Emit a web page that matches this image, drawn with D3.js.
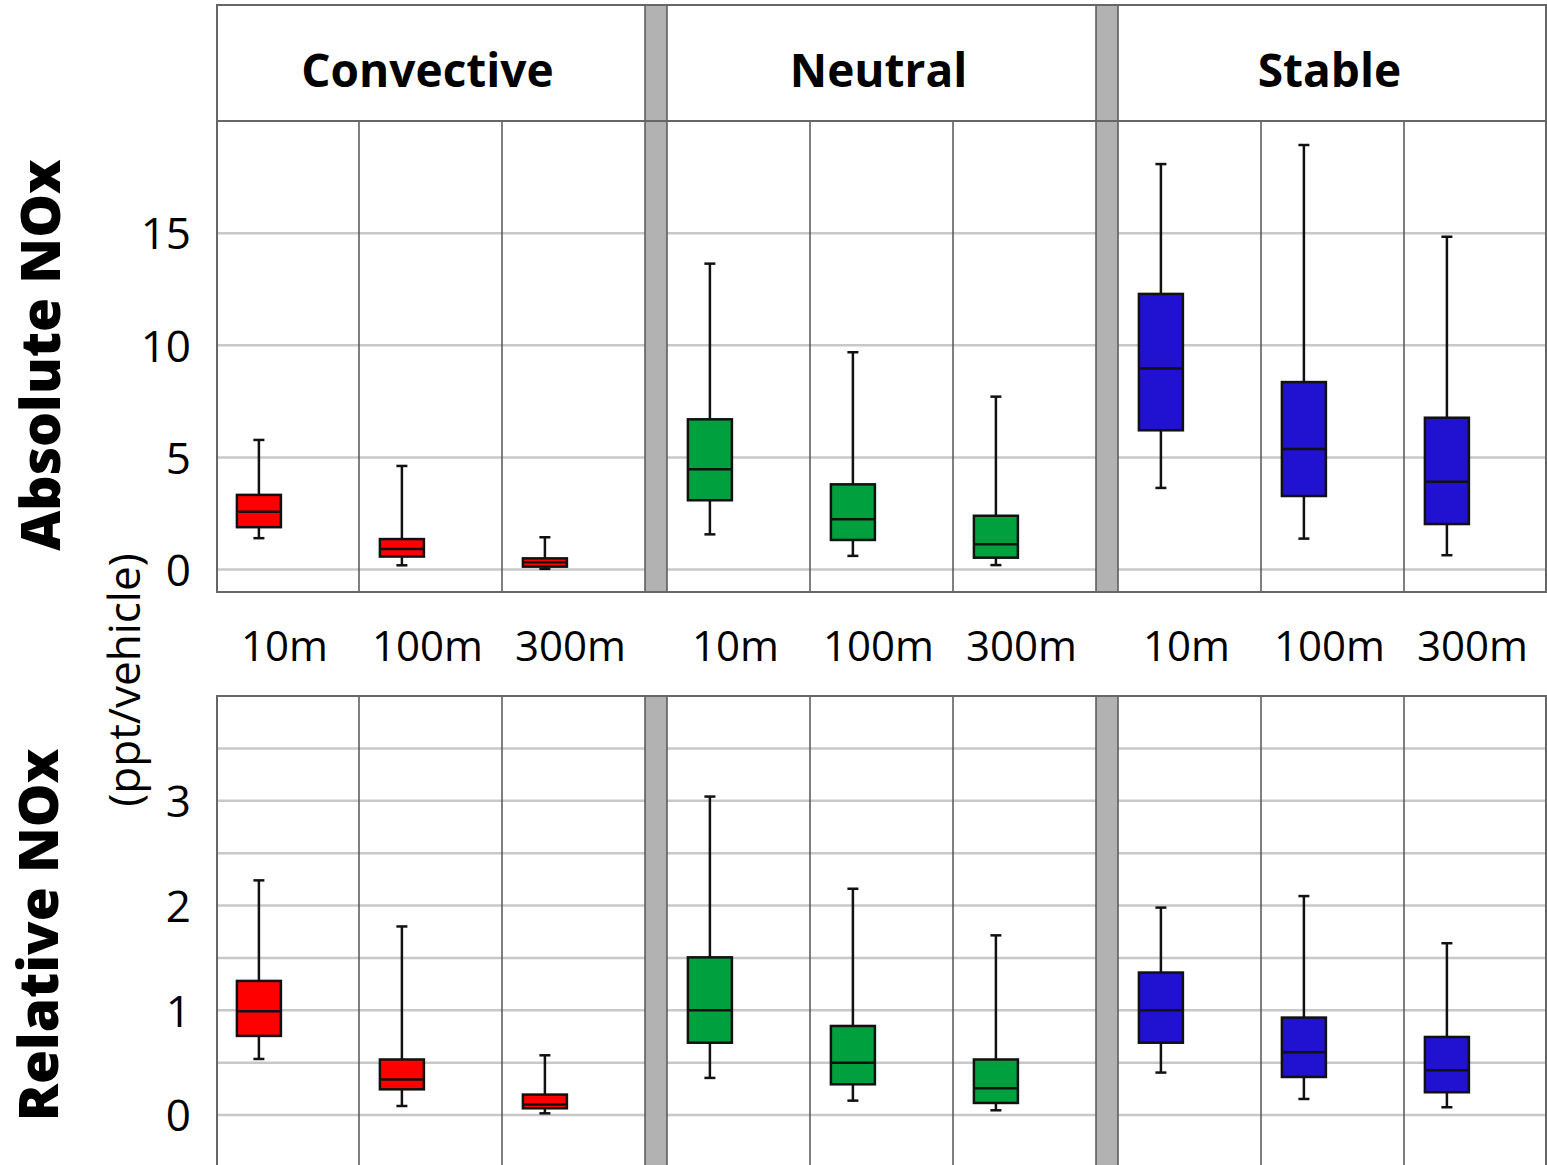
<!DOCTYPE html>
<html>
<head>
<meta charset="utf-8">
<script src="https://cdn.jsdelivr.net/npm/d3@7"></script>
<style>
  body { margin: 0; background: #fff; }
  text { font-family: "Open Sans", "Noto Sans", sans-serif; fill: #000; }
</style>
</head>
<body>
<div id="chart"></div>
<script>
// categories
const stability = ["Convective", "Neutral", "Stable"]
const distances = ["10m", "100m", "300m"]
const boxColors = ["#ff0000", "#00a03e", "#2111d1"]

// Absolute NOx (ppt/vehicle), order: Convective 10/100/300m, Neutral ..., Stable ...
const absHigh   = [5.78, 4.62, 1.44, 13.64, 9.69, 7.71, 18.08, 18.93, 14.84]
const absQ3     = [3.33, 1.36, 0.50, 6.70, 3.80, 2.40, 12.29, 8.36, 6.77]
const absMedian = [2.58, 0.92, 0.33, 4.47, 2.24, 1.13, 8.97, 5.38, 3.92]
const absQ1     = [1.89, 0.58, 0.13, 3.09, 1.32, 0.53, 6.21, 3.28, 2.03]
const absLow    = [1.40, 0.19, 0.03, 1.57, 0.61, 0.20, 3.64, 1.38, 0.64]

// Relative NOx
const relHigh   = [2.24, 1.80, 0.57, 3.04, 2.16, 1.715, 1.98, 2.09, 1.64]
const relQ3     = [1.28, 0.53, 0.195, 1.505, 0.85, 0.53, 1.36, 0.93, 0.745]
const relMedian = [0.99, 0.34, 0.10, 1.00, 0.50, 0.255, 1.00, 0.60, 0.427]
const relQ1     = [0.755, 0.245, 0.064, 0.69, 0.293, 0.115, 0.69, 0.363, 0.217]
const relLow    = [0.535, 0.086, 0.016, 0.354, 0.137, 0.045, 0.405, 0.153, 0.074]

// axis ticks
const absTicks = [0, 5, 10, 15]
const absGrid  = [0, 5, 10, 15]
const relTicks = [0, 1, 2, 3]
const relGrid  = [0, 0.5, 1, 1.5, 2, 2.5, 3, 3.5]

function makeRows(high, q3, med, q1, low) {
  return high.map((h, i) => ({
    stab: stability[Math.floor(i / 3)],
    dist: distances[i % 3],
    color: boxColors[Math.floor(i / 3)],
    high: h, q3: q3[i], med: med[i], q1: q1[i], low: low[i]
  }))
}

const width = 1547
const height = 1165
const left = 216
const right = 1547

const svg = d3.select("#chart")
  .append("svg")
  .attr("width", width)
  .attr("height", height)

// group scale (with the gray separators as inner padding) and sub-column scale
const x = d3.scaleBand()
  .domain(stability)
  .range([left, right])
  .paddingInner(22 / 451)
const xi = d3.scaleBand()
  .domain(distances)
  .range([0, x.bandwidth()])

const boxW = 44
const boxPos = 0.3   // box centre sits at 30% of each sub-column

function drawPanel(y, top, bottom, frameTop, gridVals, tickVals, rows) {
  const g = svg.append("g")

  // gridlines
  g.selectAll(".grid")
    .data(gridVals)
    .join("line")
    .attr("x1", left).attr("x2", right)
    .attr("y1", d => y(d)).attr("y2", d => y(d))
    .attr("stroke", "#c8c8c8")
    .attr("stroke-width", 2.5)

  // sub-column dividers
  const divs = []
  stability.forEach(s => distances.slice(1).forEach(d => divs.push(x(s) + xi(d))))
  g.selectAll(".div")
    .data(divs)
    .join("line")
    .attr("x1", d => d).attr("x2", d => d)
    .attr("y1", top).attr("y2", bottom)
    .attr("stroke", "#555")
    .attr("stroke-width", 1.5)

  // gray separators between stability groups
  const seps = stability.slice(0, -1).map(s => x(s) + x.bandwidth())
  g.selectAll(".sep")
    .data(seps)
    .join("rect")
    .attr("x", d => d)
    .attr("y", frameTop)
    .attr("width", x.step() - x.bandwidth())
    .attr("height", bottom - frameTop)
    .attr("fill", "#b2b2b2")
    .attr("stroke", "#555")
    .attr("stroke-width", 1.5)

  // outer frame
  g.append("rect")
    .attr("x", left + 1)
    .attr("y", frameTop)
    .attr("width", right - left - 2)
    .attr("height", bottom - frameTop)
    .attr("fill", "none")
    .attr("stroke", "#666")
    .attr("stroke-width", 2)

  // y tick labels
  const axis = d3.axisLeft(y)
    .tickValues(tickVals)
    .tickFormat(d3.format("d"))
    .tickSize(0)
    .tickPadding(25)
  const ax = g.append("g")
    .attr("transform", `translate(${left},0)`)
    .call(axis)
  ax.select(".domain").remove()
  ax.selectAll("text")
    .attr("font-family", "'Open Sans', sans-serif")
    .attr("font-size", 44)
    .attr("dy", "0.36em")

  // boxes
  const cx = d => x(d.stab) + xi(d.dist) + xi.bandwidth() * boxPos
  const bx = g.selectAll(".box")
    .data(rows)
    .join("g")

  bx.append("line")
    .attr("x1", cx).attr("x2", cx)
    .attr("y1", d => y(d.high)).attr("y2", d => y(d.low))
    .attr("stroke", "#111").attr("stroke-width", 2.5)
  bx.append("line")
    .attr("x1", d => cx(d) - 5.5).attr("x2", d => cx(d) + 5.5)
    .attr("y1", d => y(d.high)).attr("y2", d => y(d.high))
    .attr("stroke", "#111").attr("stroke-width", 2.5)
  bx.append("line")
    .attr("x1", d => cx(d) - 5.5).attr("x2", d => cx(d) + 5.5)
    .attr("y1", d => y(d.low)).attr("y2", d => y(d.low))
    .attr("stroke", "#111").attr("stroke-width", 2.5)
  bx.append("rect")
    .attr("x", d => cx(d) - boxW / 2)
    .attr("y", d => y(d.q3))
    .attr("width", boxW)
    .attr("height", d => y(d.q1) - y(d.q3))
    .attr("fill", d => d.color)
    .attr("stroke", "#111").attr("stroke-width", 2.5)
  bx.append("line")
    .attr("x1", d => cx(d) - boxW / 2).attr("x2", d => cx(d) + boxW / 2)
    .attr("y1", d => y(d.med)).attr("y2", d => y(d.med))
    .attr("stroke", "#111").attr("stroke-width", 2.5)
}

// top panel: Absolute NOx
const yAbs = d3.scaleLinear().domain([-1, 20]).range([592, 121])
drawPanel(yAbs, 121, 592, 5, absGrid, absTicks, makeRows(absHigh, absQ3, absMedian, absQ1, absLow))

// header line + titles
svg.append("line")
  .attr("x1", left).attr("x2", right)
  .attr("y1", 121).attr("y2", 121)
  .attr("stroke", "#666").attr("stroke-width", 2)
svg.selectAll(".head")
  .data(stability)
  .join("text")
  .attr("x", d => x(d) + x.bandwidth() / 2 - 3)
  .attr("y", 87)
  .attr("text-anchor", "middle")
  .attr("font-size", 46)
  .attr("font-weight", 700)
  .text(d => d)

// distance labels between the panels
const labels = []
stability.forEach(s => distances.forEach(d => labels.push({ s, d })))
svg.selectAll(".xlab")
  .data(labels)
  .join("text")
  .attr("x", d => x(d.s) + xi(d.d) + xi.bandwidth() / 2 - 3)
  .attr("y", 661)
  .attr("text-anchor", "middle")
  .attr("font-size", 42)
  .text(d => d.d)

// bottom panel: Relative NOx
const yRel = d3.scaleLinear().domain([0, 4]).range([1115, 696])
drawPanel(yRel, 696, 1180, 696, relGrid, relTicks, makeRows(relHigh, relQ3, relMedian, relQ1, relLow))

// axis titles
svg.append("text")
  .attr("transform", "translate(40,355) rotate(-90)")
  .attr("text-anchor", "middle")
  .attr("dy", "0.36em")
  .attr("font-size", 55)
  .attr("font-weight", 800)
  .text("Absolute NOx")
svg.append("text")
  .attr("transform", "translate(38,935) rotate(-90)")
  .attr("text-anchor", "middle")
  .attr("dy", "0.36em")
  .attr("font-size", 55)
  .attr("font-weight", 800)
  .text("Relative NOx")
svg.append("text")
  .attr("transform", "translate(124,680) rotate(-90)")
  .attr("text-anchor", "middle")
  .attr("dy", "0.36em")
  .attr("font-size", 44)
  .text("(ppt/vehicle)")
</script>
</body>
</html>
